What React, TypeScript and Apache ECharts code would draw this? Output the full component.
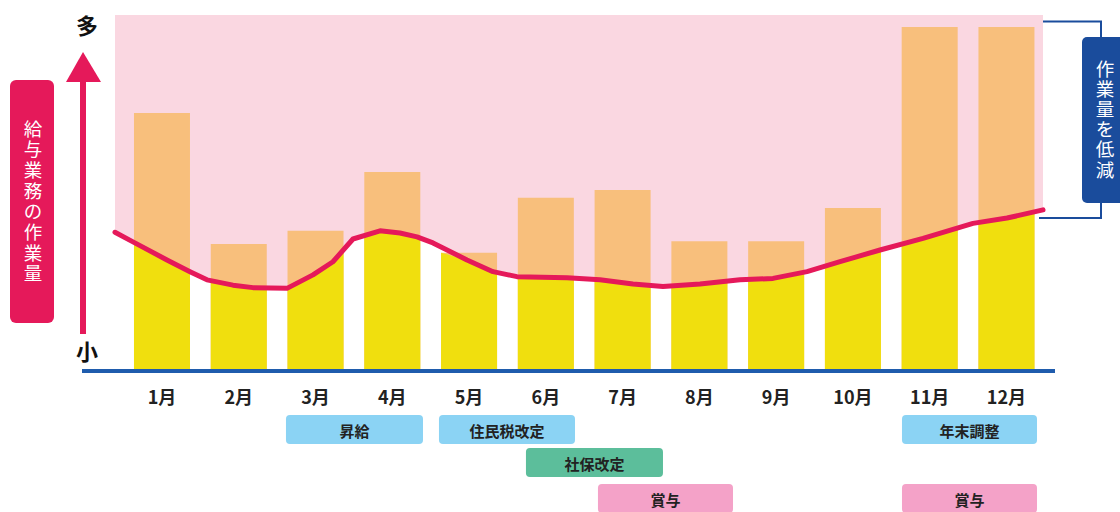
import React, { useEffect, useRef } from "react";
import * as echarts from "echarts";

const months = ["1月", "2月", "3月", "4月", "5月", "6月", "7月", "8月", "9月", "10月", "11月", "12月"];
const workload = [72.4, 35.5, 39.2, 55.8, 33.0, 48.5, 50.7, 36.3, 36.3, 45.6, 96.6, 96.6];

const lineX = [
  -0.612, -0.378, 0.065, 0.365, 0.586, 0.925, 1.185, 1.628, 1.967, 2.227, 2.488, 2.84, 3.1, 3.322, 3.53,
  3.973, 4.312, 4.624, 5.276, 5.705, 6.135, 6.526, 7.008, 7.529, 7.959, 8.402, 8.832, 9.353, 9.913,
  10.564, 11.007, 11.476,
];
const lineY = [
  38.8, 36.1, 31.0, 27.7, 25.4, 23.9, 23.2, 23.0, 26.8, 30.5, 36.9, 39.2, 38.6, 37.5, 35.8, 31.0, 27.7,
  26.3, 26.0, 25.4, 24.2, 23.5, 24.2, 25.4, 25.8, 27.7, 30.5, 33.8, 37.1, 41.3, 42.8, 45.1,
];

const eventLabels = ["昇給", "住民税改定", "社保改定", "賞与", "年末調整", "賞与"];
const eventStart = [1.615, 3.608, 4.741, 5.679, 9.639, 9.639];
const eventEnd = [3.4, 5.38, 6.526, 7.438, 11.398, 11.398];
const eventRow = [0, 0, 1, 2, 0, 2];
const eventKind = ["tax", "tax", "insurance", "bonus", "tax", "bonus"];

const leftTitle = "給与業務の作業量";
const rightTitle = "作業量を低減";

const FONT = '"Noto Sans CJK JP", "Noto Sans", sans-serif';
const PINK = "#e5195a";
const NAVY = "#1a4c9c";
const KIND_COLOR: Record<string, string> = { tax: "#8bd3f4", insurance: "#5cbe9b", bonus: "#f4a2c8" };
const ROW_OFFSET = [45, 78, 114];

function interp(x: number): number {
  if (x <= lineX[0]) return lineY[0];
  for (let k = 1; k < lineX.length; k++) {
    if (x <= lineX[k]) {
      const t = (x - lineX[k - 1]) / (lineX[k] - lineX[k - 1]);
      return lineY[k - 1] + t * (lineY[k] - lineY[k - 1]);
    }
  }
  return lineY[lineY.length - 1];
}

function verticalText(str: string, cx: number, cy: number, step: number, size: number): any[] {
  const chars = str.split("");
  const y0 = cy - ((chars.length - 1) * step) / 2;
  return chars.map((c, k) => ({
    type: "text",
    style: {
      text: c,
      x: cx,
      y: y0 + k * step,
      align: "center",
      verticalAlign: "middle",
      fontSize: size,
      fill: "#fff",
      fontFamily: FONT,
    },
    z: 20,
  }));
}

export default function App() {
  const ref = useRef<HTMLDivElement>(null);
  useEffect(() => {
    document.body.style.margin = "0";
    const chart = echarts.init(ref.current!, undefined, { renderer: "svg" });
    const linePoints = lineX.map((x, k) => [x, lineY[k]]);
    const option: any = {
      animation: false,
      grid: [
        { left: 123.6, right: 75.16, top: 15, bottom: 142 },
        { left: 115, right: 77, top: 15, bottom: 142 },
      ],
      xAxis: [
        {
          type: "category",
          gridIndex: 0,
          data: months,
          axisLine: { show: false },
          axisTick: { show: false },
          axisLabel: { fontSize: 18, fontWeight: "bold", color: "#222", margin: 17, fontFamily: FONT },
        },
        { type: "value", gridIndex: 1, min: lineX[0], max: lineX[lineX.length - 1], show: false },
      ],
      yAxis: [
        { type: "value", gridIndex: 0, min: 0, max: 100, show: false },
        { type: "value", gridIndex: 1, min: 0, max: 100, show: false },
      ],
      series: [
        {
          type: "line",
          xAxisIndex: 1,
          yAxisIndex: 1,
          data: linePoints,
          symbol: "none",
          clip: false,
          lineStyle: { width: 0 },
          areaStyle: { color: "#fad7e1", opacity: 1, origin: "end" },
          z: 1,
          silent: true,
        },
        {
          type: "bar",
          xAxisIndex: 0,
          yAxisIndex: 0,
          data: workload,
          barWidth: 56,
          itemStyle: { color: "#f8bf7c" },
          z: 2,
        },
        {
          type: "custom",
          xAxisIndex: 1,
          yAxisIndex: 1,
          data: workload.map((v, i) => [i, v]),
          z: 3,
          renderItem: (params: any, api: any) => {
            const i = api.value(0);
            const v = api.value(1);
            const half = 28 / api.size([1, 0])[0];
            const l = i - half;
            const r = i + half;
            const pts: number[][] = [];
            pts.push(api.coord([l, Math.min(v, interp(l))]));
            for (let k = 0; k < lineX.length; k++) {
              if (lineX[k] > l && lineX[k] < r) pts.push(api.coord([lineX[k], Math.min(v, lineY[k])]));
            }
            pts.push(api.coord([r, Math.min(v, interp(r))]));
            pts.push(api.coord([r, 0]));
            pts.push(api.coord([l, 0]));
            return { type: "polygon", shape: { points: pts }, style: { fill: "#f0df0e" } };
          },
        },
        {
          type: "line",
          xAxisIndex: 1,
          yAxisIndex: 1,
          data: linePoints,
          symbol: "none",
          clip: false,
          lineStyle: { width: 5, color: PINK, cap: "round", join: "round" },
          z: 5,
        },
        {
          type: "custom",
          xAxisIndex: 1,
          yAxisIndex: 1,
          clip: false,
          data: eventLabels.map((_, k) => [eventStart[k], eventEnd[k], eventRow[k], k]),
          z: 5,
          renderItem: (params: any, api: any) => {
            const k = api.value(3);
            const p0 = api.coord([api.value(0), 0]);
            const p1 = api.coord([api.value(1), 0]);
            const top = p0[1] + ROW_OFFSET[api.value(2)];
            return {
              type: "group",
              children: [
                {
                  type: "rect",
                  shape: { x: p0[0], y: top, width: p1[0] - p0[0], height: 29, r: 4 },
                  style: { fill: KIND_COLOR[eventKind[k]] },
                },
                {
                  type: "text",
                  style: {
                    text: eventLabels[k],
                    x: (p0[0] + p1[0]) / 2,
                    y: top + 15,
                    align: "center",
                    verticalAlign: "middle",
                    fill: "#222",
                    fontSize: 15,
                    fontWeight: "bold",
                    fontFamily: FONT,
                  },
                },
              ],
            };
          },
        },
      ],
      graphic: [
        { type: "line", shape: { x1: 82, y1: 371, x2: 1055, y2: 371 }, style: { stroke: "#1f5cad", lineWidth: 4 }, z: 10 },
        { type: "rect", shape: { x: 10, y: 80, width: 44, height: 243, r: 6 }, style: { fill: PINK } },
        ...verticalText(leftTitle, 33, 200, 20.7, 18.5),
        { type: "line", shape: { x1: 83, y1: 334, x2: 83, y2: 78 }, style: { stroke: PINK, lineWidth: 6 } },
        { type: "polygon", shape: { points: [[83, 52], [66, 82], [101, 82]] }, style: { fill: PINK } },
        {
          type: "text",
          style: { text: "多", x: 87, y: 24, align: "center", verticalAlign: "middle", fontSize: 22, fontWeight: "bold", fill: "#111", fontFamily: FONT },
        },
        {
          type: "text",
          style: { text: "小", x: 87, y: 350, align: "center", verticalAlign: "middle", fontSize: 22, fontWeight: "bold", fill: "#111", fontFamily: FONT },
        },
        {
          type: "polyline",
          shape: { points: [[1043, 21.5], [1101, 21.5], [1101, 218], [1039, 218]] },
          style: { stroke: NAVY, lineWidth: 2, fill: null },
        },
        { type: "rect", shape: { x: 1082, y: 37, width: 48, height: 166, r: 5 }, style: { fill: NAVY } },
        ...verticalText(rightTitle, 1105, 118, 20.2, 18.5),
      ],
    };
    chart.setOption(option);
    return () => chart.dispose();
  }, []);
  return <div ref={ref} style={{ width: 1120, height: 512 }} />;
}
